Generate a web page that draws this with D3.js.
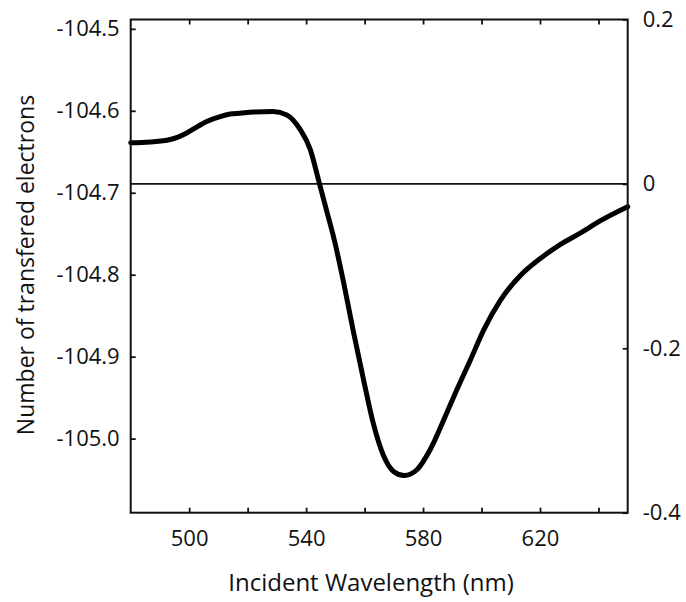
<!DOCTYPE html>
<html>
<head>
<meta charset="utf-8">
<script src="https://cdn.jsdelivr.net/npm/d3@7"></script>
<style>
  html, body { margin: 0; padding: 0; background: #fff; }
  svg { display: block; }
  text { font-family: "Open Sans", "Noto Sans", sans-serif; fill: #111; }
</style>
</head>
<body>
<svg id="chart" width="686" height="602"></svg>
<script>
// ---- data ----
const wavelength = [480, 486.6, 493.5, 499.2, 503, 506, 510.6, 514, 517.4, 521.9, 528.7, 533.4, 538, 541.4, 544.5, 547.1, 549.6, 552.8, 556.2, 559.7, 563.1, 566.5, 569.9, 573.6, 577.9, 582.5, 587.1, 591.6, 596.2, 600.8, 606.5, 613.3, 620.2, 627.0, 633.9, 640.7, 650];
const electrons = [-104.639, -104.638, -104.635, -104.627, -104.619, -104.613, -104.607, -104.604, -104.603, -104.6015, -104.601, -104.605, -104.623, -104.647, -104.688, -104.723, -104.757, -104.809, -104.870, -104.929, -104.983, -105.021, -105.040, -105.045, -105.038, -105.013, -104.977, -104.940, -104.904, -104.867, -104.831, -104.801, -104.780, -104.763, -104.749, -104.734, -104.717];
const xTicks = [500, 520, 540, 560, 580, 600, 620, 640];
const xTickLabels = [500, 540, 580, 620];
const leftTicks = [-104.5, -104.6, -104.7, -104.8, -104.9, -105.0];
const rightTicks = [0.2, 0, -0.2, -0.4];
const zeroLine = [0];

// ---- layout ----
const svg = d3.select("#chart");
const L = 130.7, R = 627.7, T = 19.5, B = 512.7;

const x = d3.scaleLinear().domain([480, 650]).range([L, R]);
const yL = d3.scaleLinear().domain([-105.0904, -104.4886]).range([B, T]);
const yR = d3.scaleLinear().domain([-0.4, 0.2]).range([B, T]);

const tickFont = 22;
const hy = s => s.replace("\u2212", "-");

// zero reference line (right axis)
svg.append("line")
  .attr("x1", L).attr("x2", R)
  .attr("y1", yR(zeroLine[0])).attr("y2", yR(zeroLine[0]))
  .attr("stroke", "#111").attr("stroke-width", 1.8);

// curve
const line = d3.line()
  .x((d, i) => x(wavelength[i]))
  .y((d, i) => yL(electrons[i]))
  .curve(d3.curveMonotoneX);
svg.append("path")
  .datum(electrons)
  .attr("d", line)
  .attr("fill", "none")
  .attr("stroke", "#000")
  .attr("stroke-width", 5)
  .attr("stroke-linejoin", "round")
  .attr("stroke-linecap", "round");

function styleAxis(g) {
  g.select(".domain").remove();
  g.selectAll(".tick line").attr("stroke", "#111").attr("stroke-width", 1.8);
  g.selectAll(".tick text").attr("font-size", tickFont).attr("font-family", null).attr("fill", "#111");
}

// bottom axis
const gB = svg.append("g").attr("transform", `translate(0,${B})`)
  .call(d3.axisBottom(x).tickValues(xTicks).tickSize(-5).tickPadding(18)
    .tickFormat(d => xTickLabels.includes(d) ? String(d) : ""));
styleAxis(gB);

// top axis (ticks only)
const gT = svg.append("g").attr("transform", `translate(0,${T})`)
  .call(d3.axisTop(x).tickValues(xTicks).tickSize(-5).tickFormat(""));
styleAxis(gT);

// left axis
const gLft = svg.append("g").attr("transform", `translate(${L},0)`)
  .call(d3.axisLeft(yL).tickValues(leftTicks).tickSize(-5).tickPadding(11)
    .tickFormat(d => hy(d3.format(".1f")(d))));
styleAxis(gLft);

// right axis
const gRt = svg.append("g").attr("transform", `translate(${R},0)`)
  .call(d3.axisRight(yR).tickValues(rightTicks).tickSize(-5).tickPadding(15)
    .tickFormat(d => d === 0 ? "0" : hy(d3.format(".1f")(d))));
styleAxis(gRt);

// frame
svg.append("rect")
  .attr("x", L).attr("y", T).attr("width", R - L).attr("height", B - T)
  .attr("fill", "none").attr("stroke", "#111").attr("stroke-width", 2);

// axis titles
svg.append("text")
  .attr("x", 371).attr("y", 591)
  .attr("text-anchor", "middle")
  .attr("font-size", 24)
  .text("Incident Wavelength (nm)");

svg.append("text")
  .attr("transform", "translate(34,265) rotate(-90)")
  .attr("text-anchor", "middle")
  .attr("font-size", 23)
  .text("Number of transfered electrons");
</script>
</body>
</html>
